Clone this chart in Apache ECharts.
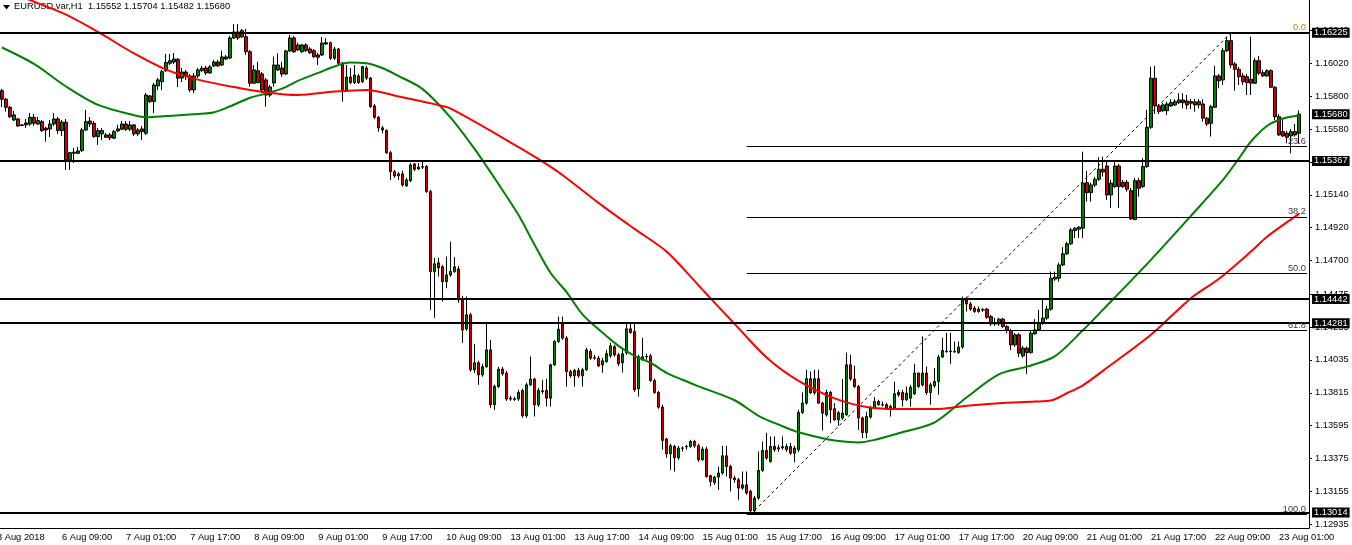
<!DOCTYPE html>
<html><head><meta charset="utf-8">
<script src="https://cdn.jsdelivr.net/npm/echarts@6/dist/echarts.min.js"></script>
<style>html,body{margin:0;padding:0;background:#fff}#c{width:1352px;height:545px}</style>
</head><body><div id="c"></div>
<script>
const tickLabels = ['3 Aug 2018','6 Aug 09:00','7 Aug 01:00','7 Aug 17:00','8 Aug 09:00','9 Aug 01:00','9 Aug 17:00','10 Aug 09:00','13 Aug 01:00','13 Aug 17:00','14 Aug 09:00','15 Aug 01:00','15 Aug 17:00','16 Aug 09:00','17 Aug 01:00','17 Aug 17:00','20 Aug 09:00','21 Aug 01:00','21 Aug 17:00','22 Aug 09:00','23 Aug 01:00'];
const priceTicks = [1.16240,1.16020,1.15800,1.15580,1.15360,1.15140,1.14920,1.14700,1.14475,1.14255,1.14035,1.13815,1.13595,1.13375,1.13155,1.12935];

// hourly EURUSD H1 candles, 3 Aug 18:00 .. 23 Aug 06:00
const opens = [
1.15837,1.15780,1.15726,1.15641,1.15648,1.15608,1.15621,1.15614,1.15659,1.15614,
1.15630,1.15586,1.15581,1.15614,1.15648,1.15570,1.15626,1.15374,1.15418,1.15418,
1.15436,1.15574,1.15634,1.15619,1.15530,1.15548,1.15541,1.15541,1.15519,1.15568,
1.15579,1.15614,1.15579,1.15608,1.15548,1.15581,1.15552,1.15802,1.15764,1.15869,
1.15897,1.15971,1.16021,1.16029,1.16047,1.15922,1.15962,1.15936,1.15842,1.15936,
1.15971,1.15989,1.15956,1.16003,1.16029,1.16009,1.16049,1.16056,1.16190,1.16230,
1.16198,1.16198,1.16098,1.15887,1.15971,1.15949,1.15909,1.15808,1.15889,1.15976,
1.15989,1.15949,1.16103,1.16190,1.16110,1.16098,1.16143,1.16116,1.16105,1.16076,
1.16076,1.16150,1.16158,1.16054,1.16116,1.16023,1.15842,1.15929,1.15891,1.15936,
1.15897,1.15989,1.15922,1.15735,1.15659,1.15588,1.15570,1.15422,1.15295,1.15267,
1.15280,1.15200,1.15235,1.15347,1.15313,1.15325,1.15329,1.15162,1.14626,1.14685,
1.14658,1.14559,1.14604,1.14626,1.14644,1.14437,1.14243,1.14337,1.13969,1.14016,
1.13935,1.13989,1.14102,1.13735,1.13857,1.13973,1.13947,1.13779,1.13775,1.13773,
1.13830,1.13661,1.13868,1.13907,1.13735,1.13824,1.13830,1.13779,1.14002,1.14158,
1.14276,1.14181,1.13957,1.13929,1.13964,1.13929,1.13969,1.14091,1.14047,1.14047,
1.14002,1.14024,1.14062,1.14123,1.14069,1.14016,1.14082,1.14243,1.14225,1.13842,
1.14036,1.14056,1.14062,1.13897,1.13817,1.13719,1.13505,1.13407,1.13456,1.13380,
1.13445,1.13454,1.13456,1.13489,1.13460,1.13367,1.13438,1.13260,1.13215,1.13251,
1.13278,1.13393,1.13322,1.13244,1.13233,1.13177,1.13199,1.13155,1.13025,1.13110,
1.13295,1.13429,1.13355,1.13456,1.13440,1.13447,1.13434,1.13456,1.13411,1.13434,
1.13683,1.13746,1.13909,1.13815,1.13909,1.13746,1.13668,1.13817,1.13708,1.13634,
1.13646,1.13668,1.14002,1.13907,1.13857,1.13646,1.13549,1.13653,1.13713,1.13757,
1.13735,1.13735,1.13706,1.13713,1.13817,1.13817,1.13768,1.13779,1.13808,1.13947,
1.13868,1.13947,1.13817,1.13862,1.13890,1.14054,1.14091,1.14091,1.14091,1.14084,
1.14121,1.14437,1.14410,1.14382,1.14359,1.14370,1.14375,1.14325,1.14276,1.14276,
1.14308,1.14258,1.14232,1.14136,1.14203,1.14062,1.14114,1.14084,1.14210,1.14236,
1.14281,1.14315,1.14375,1.14576,1.14582,1.14671,1.14745,1.14812,1.14901,1.14910,
1.14917,1.15222,1.15155,1.15206,1.15244,1.15311,1.15333,1.15139,1.15195,1.15333,
1.15224,1.15224,1.15168,1.14974,1.15235,1.15195,1.15329,1.15592,1.15920,1.15735,
1.15703,1.15703,1.15735,1.15742,1.15757,1.15775,1.15768,1.15753,1.15762,1.15742,
1.15748,1.15653,1.15619,1.15726,1.15936,1.15909,1.16105,1.16172,1.16016,1.15980,
1.15936,1.15931,1.15913,1.15887,1.16038,1.15958,1.15936,1.15971,1.15860,1.15663,
1.15563,1.15552,1.15534,1.15563,1.15552];
const highs = [
1.15849,1.15788,1.15735,1.15701,1.15655,1.15614,1.15648,1.15688,1.15681,1.15661,
1.15641,1.15596,1.15641,1.15688,1.15661,1.15641,1.15648,1.15427,1.15454,1.15461,
1.15588,1.15708,1.15661,1.15634,1.15588,1.15588,1.15554,1.15554,1.15574,1.15608,
1.15634,1.15634,1.15634,1.15614,1.15588,1.15601,1.15822,1.15808,1.15889,1.15922,
1.15976,1.16083,1.16083,1.16089,1.16056,1.15989,1.15976,1.15949,1.15956,1.15989,
1.16003,1.16003,1.16009,1.16043,1.16043,1.16105,1.16076,1.16203,1.16283,1.16283,
1.16250,1.16250,1.16110,1.16009,1.16031,1.15962,1.15922,1.15875,1.16065,1.16087,
1.16031,1.16110,1.16210,1.16203,1.16158,1.16150,1.16154,1.16130,1.16116,1.16089,
1.16196,1.16188,1.16165,1.16130,1.16123,1.16029,1.16009,1.15989,1.16009,1.15949,
1.16003,1.16003,1.15929,1.15748,1.15668,1.15601,1.15579,1.15434,1.15307,1.15293,
1.15302,1.15253,1.15352,1.15353,1.15352,1.15362,1.15340,1.15173,1.14718,1.14718,
1.14671,1.14727,1.14827,1.14723,1.14664,1.14464,1.14459,1.14350,1.14143,1.14029,
1.14009,1.14276,1.14169,1.13868,1.13989,1.13989,1.13962,1.13795,1.13788,1.13835,
1.13842,1.13882,1.14058,1.13915,1.13848,1.13902,1.13909,1.14009,1.14169,1.14325,
1.14325,1.14196,1.13969,1.13975,1.13982,1.13982,1.14116,1.14109,1.14069,1.14062,
1.14049,1.14102,1.14149,1.14136,1.14082,1.14102,1.14285,1.14281,1.14283,1.14069,
1.14183,1.14076,1.14076,1.13909,1.13828,1.13735,1.13514,1.13474,1.13467,1.13460,
1.13456,1.13467,1.13500,1.13500,1.13474,1.13454,1.13454,1.13266,1.13260,1.13322,
1.13460,1.13460,1.13333,1.13260,1.13246,1.13288,1.13288,1.13166,1.13126,1.13422,
1.13489,1.13547,1.13523,1.13523,1.13467,1.13523,1.13474,1.13480,1.13460,1.13701,
1.13817,1.13969,1.13957,1.13969,1.13969,1.13755,1.13835,1.13828,1.13746,1.13694,
1.13907,1.14084,1.14069,1.13996,1.13868,1.13656,1.13688,1.13728,1.13786,1.13768,
1.13757,1.13748,1.13735,1.13890,1.13835,1.13835,1.13857,1.13868,1.14009,1.13949,
1.14192,1.13991,1.13882,1.13980,1.14069,1.14183,1.14216,1.14216,1.14158,1.14158,
1.14459,1.14457,1.14424,1.14397,1.14392,1.14383,1.14383,1.14337,1.14317,1.14317,
1.14317,1.14270,1.14243,1.14216,1.14216,1.14129,1.14125,1.14230,1.14308,1.14370,
1.14442,1.14397,1.14626,1.14626,1.14685,1.14790,1.14825,1.14919,1.14925,1.14932,
1.15429,1.15302,1.15220,1.15260,1.15392,1.15396,1.15360,1.15240,1.15374,1.15347,
1.15240,1.15240,1.15186,1.15253,1.15253,1.15385,1.15708,1.15998,1.16003,1.15748,
1.15755,1.15762,1.15780,1.15780,1.15820,1.15820,1.15808,1.15782,1.15782,1.15780,
1.15780,1.15661,1.15742,1.16003,1.15949,1.16123,1.16198,1.16225,1.16029,1.15996,
1.15956,1.15949,1.16198,1.16056,1.16069,1.15976,1.15980,1.15980,1.15869,1.15681,
1.15646,1.15568,1.15581,1.15614,1.15704];
const lows = [
1.15728,1.15697,1.15655,1.15634,1.15594,1.15601,1.15588,1.15601,1.15601,1.15608,
1.15561,1.15496,1.15527,1.15601,1.15548,1.15534,1.15307,1.15307,1.15353,1.15414,
1.15427,1.15568,1.15594,1.15521,1.15474,1.15507,1.15521,1.15507,1.15514,1.15561,
1.15574,1.15568,1.15568,1.15534,1.15534,1.15507,1.15541,1.15755,1.15688,1.15842,
1.15842,1.15962,1.16009,1.16016,1.15862,1.15895,1.15909,1.15829,1.15822,1.15922,
1.15962,1.15942,1.15949,1.15996,1.15996,1.16003,1.16043,1.16049,1.16183,1.16176,
1.16190,1.16076,1.15864,1.15882,1.15887,1.15820,1.15730,1.15795,1.15864,1.15969,
1.15931,1.15942,1.16096,1.16089,1.16103,1.16089,1.16096,1.16083,1.16056,1.16009,
1.16069,1.16143,1.16043,1.16043,1.16003,1.15764,1.15835,1.15882,1.15882,1.15882,
1.15889,1.15909,1.15722,1.15648,1.15563,1.15552,1.15414,1.15240,1.15253,1.15240,
1.15195,1.15193,1.15226,1.15300,1.15307,1.15313,1.15153,1.14370,1.14317,1.14593,
1.14426,1.14515,1.14591,1.14618,1.14417,1.14149,1.14230,1.13955,1.13947,1.13868,
1.13922,1.13982,1.13715,1.13701,1.13848,1.13929,1.13761,1.13761,1.13761,1.13761,
1.13648,1.13648,1.13862,1.13656,1.13721,1.13808,1.13723,1.13723,1.13995,1.14149,
1.14169,1.13855,1.13915,1.13855,1.13915,1.13857,1.13962,1.14036,1.14036,1.13989,
1.13949,1.14016,1.14049,1.14056,1.13995,1.13951,1.14069,1.14210,1.13822,1.13790,
1.14029,1.14036,1.13888,1.13808,1.13708,1.13434,1.13380,1.13300,1.13288,1.13367,
1.13422,1.13434,1.13447,1.13447,1.13353,1.13360,1.13246,1.13188,1.13199,1.13166,
1.13266,1.13255,1.13155,1.13213,1.13099,1.13166,1.13132,1.13000,1.13010,1.13099,
1.13286,1.13367,1.13347,1.13420,1.13420,1.13434,1.13420,1.13400,1.13349,1.13420,
1.13674,1.13735,1.13808,1.13801,1.13741,1.13563,1.13656,1.13612,1.13628,1.13594,
1.13634,1.13661,1.13895,1.13848,1.13567,1.13512,1.13512,1.13641,1.13708,1.13728,
1.13723,1.13701,1.13656,1.13708,1.13788,1.13723,1.13761,1.13723,1.13801,1.13848,
1.13857,1.13801,1.13735,1.13848,1.13801,1.14049,1.14082,1.14009,1.14082,1.14076,
1.14109,1.14359,1.14363,1.14350,1.14350,1.14357,1.14310,1.14263,1.14263,1.14263,
1.14250,1.14214,1.14102,1.14123,1.14054,1.14049,1.13942,1.14076,1.14203,1.14230,
1.14270,1.14303,1.14363,1.14564,1.14559,1.14664,1.14738,1.14805,1.14850,1.14852,
1.14852,1.15095,1.15095,1.15193,1.15233,1.15262,1.15106,1.15052,1.15186,1.15052,
1.15186,1.15162,1.14972,1.14972,1.15128,1.15186,1.15320,1.15581,1.15681,1.15681,
1.15695,1.15675,1.15728,1.15735,1.15748,1.15719,1.15713,1.15713,1.15697,1.15719,
1.15630,1.15601,1.15530,1.15722,1.15853,1.15875,1.16096,1.15987,1.15837,1.15875,
1.15875,1.15808,1.15808,1.15882,1.15942,1.15929,1.15929,1.15855,1.15641,1.15534,
1.15527,1.15485,1.15418,1.15530,1.15482];
const closes = [
1.15780,1.15726,1.15663,1.15675,1.15601,1.15604,1.15608,1.15659,1.15619,1.15637,
1.15570,1.15574,1.15614,1.15648,1.15570,1.15626,1.15374,1.15422,1.15425,1.15434,
1.15574,1.15630,1.15614,1.15530,1.15570,1.15570,1.15525,1.15521,1.15563,1.15581,
1.15614,1.15579,1.15608,1.15548,1.15574,1.15563,1.15808,1.15764,1.15875,1.15909,
1.15964,1.16025,1.16038,1.16049,1.15920,1.15962,1.15936,1.15842,1.15936,1.15976,
1.15987,1.15956,1.15996,1.16029,1.16003,1.16063,1.16063,1.16190,1.16230,1.16190,
1.16239,1.16098,1.15887,1.15976,1.15891,1.15842,1.15808,1.15862,1.16009,1.16009,
1.15949,1.16103,1.16190,1.16098,1.16143,1.16143,1.16105,1.16091,1.16065,1.16061,
1.16156,1.16158,1.16054,1.16116,1.16021,1.15842,1.15929,1.15891,1.15942,1.15891,
1.15998,1.15922,1.15730,1.15659,1.15588,1.15574,1.15422,1.15295,1.15267,1.15280,
1.15206,1.15240,1.15340,1.15311,1.15325,1.15329,1.15162,1.14626,1.14678,1.14651,
1.14559,1.14604,1.14626,1.14658,1.14437,1.14236,1.14337,1.13969,1.14016,1.13935,
1.13989,1.14102,1.13735,1.13857,1.13973,1.13942,1.13773,1.13773,1.13771,1.13817,
1.13661,1.13868,1.13907,1.13735,1.13830,1.13828,1.13779,1.14002,1.14158,1.14241,
1.14181,1.13957,1.13929,1.13964,1.13929,1.13969,1.14102,1.14047,1.14049,1.13995,
1.14029,1.14076,1.14129,1.14069,1.14009,1.14076,1.14243,1.14218,1.13835,1.14056,
1.14056,1.14058,1.13897,1.13817,1.13719,1.13496,1.13407,1.13460,1.13380,1.13445,
1.13444,1.13456,1.13489,1.13460,1.13367,1.13438,1.13255,1.13221,1.13251,1.13278,
1.13393,1.13322,1.13244,1.13233,1.13177,1.13199,1.13144,1.13025,1.13110,1.13295,
1.13429,1.13378,1.13456,1.13434,1.13447,1.13454,1.13456,1.13411,1.13445,1.13683,
1.13746,1.13909,1.13815,1.13909,1.13746,1.13679,1.13817,1.13701,1.13634,1.13681,
1.13679,1.14002,1.13907,1.13857,1.13646,1.13549,1.13656,1.13713,1.13757,1.13735,
1.13733,1.13706,1.13723,1.13808,1.13801,1.13768,1.13813,1.13853,1.13947,1.13857,
1.13947,1.13817,1.13868,1.13890,1.14054,1.14098,1.14093,1.14094,1.14089,1.14121,
1.14442,1.14410,1.14375,1.14359,1.14375,1.14371,1.14321,1.14276,1.14283,1.14308,
1.14258,1.14236,1.14136,1.14203,1.14080,1.14114,1.14084,1.14214,1.14236,1.14281,
1.14315,1.14375,1.14582,1.14589,1.14671,1.14745,1.14812,1.14905,1.14917,1.14923,
1.15218,1.15155,1.15206,1.15244,1.15311,1.15293,1.15139,1.15218,1.15333,1.15195,
1.15195,1.15178,1.14979,1.15235,1.15184,1.15329,1.15592,1.15920,1.15735,1.15697,
1.15742,1.15748,1.15757,1.15764,1.15775,1.15757,1.15742,1.15764,1.15742,1.15764,
1.15653,1.15614,1.15730,1.15936,1.15904,1.16105,1.16172,1.16009,1.15980,1.15931,
1.15897,1.15891,1.15887,1.16038,1.15954,1.15936,1.15971,1.15860,1.15663,1.15541,
1.15534,1.15525,1.15563,1.15541,1.15680];

// moving averages: [candle index, price]
const greenMA = [[0,1.16126],[8,1.16016],[16,1.15865],[24,1.15742],[33,1.15673],[36,1.15660],[41,1.15668],[49,1.15681],[53,1.15693],[57,1.15733],[62,1.15790],[66,1.15818],[70,1.15851],[74,1.15904],[79,1.15956],[83,1.15999],[87,1.16025],[91,1.16021],[95,1.15989],[99,1.15936],[105,1.15849],[112,1.15659],[118,1.15449],[124,1.15213],[129,1.15006],[133,1.14808],[137,1.14618],[141,1.14490],[145,1.14340],[149,1.14241],[154,1.14129],[158,1.14062],[162,1.14016],[166,1.13949],[170,1.13902],[174,1.13858],[183,1.13765],[189,1.13661],[195,1.13591],[199,1.13551],[208,1.13495],[214,1.13483],[218,1.13500],[224,1.13544],[233,1.13617],[241,1.13785],[249,1.13938],[256,1.13990],[263,1.14059],[270,1.14233],[275,1.14370],[287,1.14705],[297,1.14999],[305,1.15240],[309,1.15384],[312,1.15497],[316,1.15601],[320,1.15651],[324,1.15671]];
const redMA = [[0,1.16521],[7,1.16444],[16,1.16346],[24,1.16230],[33,1.16086],[41,1.15978],[49,1.15911],[58,1.15861],[66,1.15825],[74,1.15808],[83,1.15831],[91,1.15842],[99,1.15799],[108,1.15747],[112,1.15718],[130,1.15444],[137,1.15329],[141,1.15253],[149,1.15086],[158,1.14912],[166,1.14761],[174,1.14534],[177,1.14447],[183,1.14276],[191,1.14052],[199,1.13895],[208,1.13778],[216,1.13720],[224,1.13706],[233,1.13706],[241,1.13728],[249,1.13745],[258,1.13756],[262,1.13763],[266,1.13812],[270,1.13865],[275,1.13962],[287,1.14203],[297,1.14448],[304,1.14578],[312,1.14760],[316,1.14859],[324,1.15012]];

const levelLines = [1.16225, 1.15367, 1.14442, 1.14281, 1.13014];
const lastPrice = 1.15680;
const fibHigh = 1.16225, fibLow = 1.13000;
const fibRatios = [0, 23.6, 38.2, 50.0, 61.8, 100.0];
const fibStartIdx = 186, fibEndIdx = 326, lowIdx = 187, highIdx = 307;
const titleText = 'EURUSD,var,H1  1.15552 1.15704 1.15482 1.15680';

// category axis: hourly bars (weekends closed) from 3 Aug 18:00, plus 2 empty slots of right margin
const MON = ['Jan','Feb','Mar','Apr','May','Jun','Jul','Aug','Sep','Oct','Nov','Dec'];
const categories = [];
for (let t = Date.UTC(2018,7,3,18); categories.length < 327; t += 3600000) {
  const d = new Date(t), wd = d.getUTCDay();
  if (wd === 0 || wd === 6) continue;
  categories.push(d.getUTCDate() + ' ' + MON[d.getUTCMonth()] + ' ' + String(d.getUTCHours()).padStart(2,'0') + ':00');
}
const candleData = opens.map((o, i) => [o, closes[i], lows[i], highs[i]]);

const FONT = 'Liberation Sans';
const FS = 9.3;
const boxLabel = {
  show: true, position: 'end', distance: 3, formatter: p => p.value.toFixed(5),
  backgroundColor: '#000', color: '#fff', fontSize: FS, fontFamily: FONT,
  padding: [1, 2, 0, 2], lineHeight: 9
};
const markData = [];
levelLines.forEach(v => markData.push({ yAxis: v, lineStyle: { color: '#000', width: 2, type: 'solid' }, label: boxLabel }));
markData.push({ yAxis: lastPrice, lineStyle: { color: 'rgba(0,0,0,0)', width: 1 }, label: boxLabel });
fibRatios.forEach(r => {
  const p = fibHigh - (fibHigh - fibLow) * r / 100;
  markData.push([
    { coord: [fibStartIdx, p], lineStyle: { color: '#000', width: 1, type: 'solid' },
      label: { show: true, position: 'insideEndTop', distance: 1, formatter: r.toFixed(1),
               color: r === 0 ? '#c87f0a' : '#3c3c3c', fontSize: FS, fontFamily: FONT } },
    { coord: [fibEndIdx, p] }
  ]);
});
markData.push([
  { coord: [lowIdx, fibLow], lineStyle: { color: '#000', width: 1, type: [3, 3] }, label: { show: false } },
  { coord: [highIdx, fibHigh] }
]);

const chart = echarts.init(document.getElementById('c'), null, { renderer: 'canvas' });
chart.setOption({
  animation: false,
  backgroundColor: '#fff',
  grid: { left: 0, right: 43, top: 0, bottom: 17 },
  xAxis: {
    type: 'category', data: categories, boundaryGap: true,
    axisLine: { lineStyle: { color: '#000', width: 1 } },
    axisTick: { alignWithLabel: true, interval: i => (i + 1) % 16 === 0, length: 3, lineStyle: { color: '#000' } },
    axisLabel: { interval: i => (i + 1) % 16 === 0, formatter: (v, i) => tickLabels[(i + 1) / 16] || '', align: 'left',
                 color: '#000', fontSize: FS, fontFamily: FONT, margin: 5 },
    splitLine: { show: false }
  },
  yAxis: {
    type: 'value', position: 'right', min: 1.12910, max: 1.16444,
    axisLine: { show: true, lineStyle: { color: '#000' } },
    axisTick: { show: true, customValues: priceTicks, length: 3, lineStyle: { color: '#000' } },
    axisLabel: { customValues: priceTicks, formatter: v => v.toFixed(5), color: '#000', fontSize: FS, fontFamily: FONT, margin: 6 },
    splitLine: { show: false }
  },
  graphic: [
    { type: 'polygon', x: 3, y: 5, shape: { points: [[0,0],[7,0],[3.5,4.5]] }, style: { fill: '#000' } },
    { type: 'text', x: 14, y: 2, style: { text: titleText, fill: '#000', font: '9.3px "Liberation Sans"' } },
    { type: 'text', x: -3, y: 533, style: { text: tickLabels[0], fill: '#000', font: '9.3px "Liberation Sans"' } }
  ],
  series: [
    {
      type: 'candlestick', data: candleData, barWidth: 3, silent: true,
      itemStyle: { color: '#008000', color0: '#cc0000', borderColor: '#000', borderColor0: '#000', borderWidth: 1 }
    },
    {
      type: 'line', data: greenMA, showSymbol: false, connectNulls: true, smooth: 0.3, silent: true,
      lineStyle: { color: '#008000', width: 2 }
    },
    {
      type: 'line', data: redMA, showSymbol: false, connectNulls: true, smooth: 0.3, silent: true,
      lineStyle: { color: '#ff0000', width: 2 }
    },
    {
      type: 'line', data: [], silent: true,
      markLine: { symbol: ['none', 'none'], silent: true, animation: false, precision: 5, data: markData }
    }
  ]
});
</script></body></html>
